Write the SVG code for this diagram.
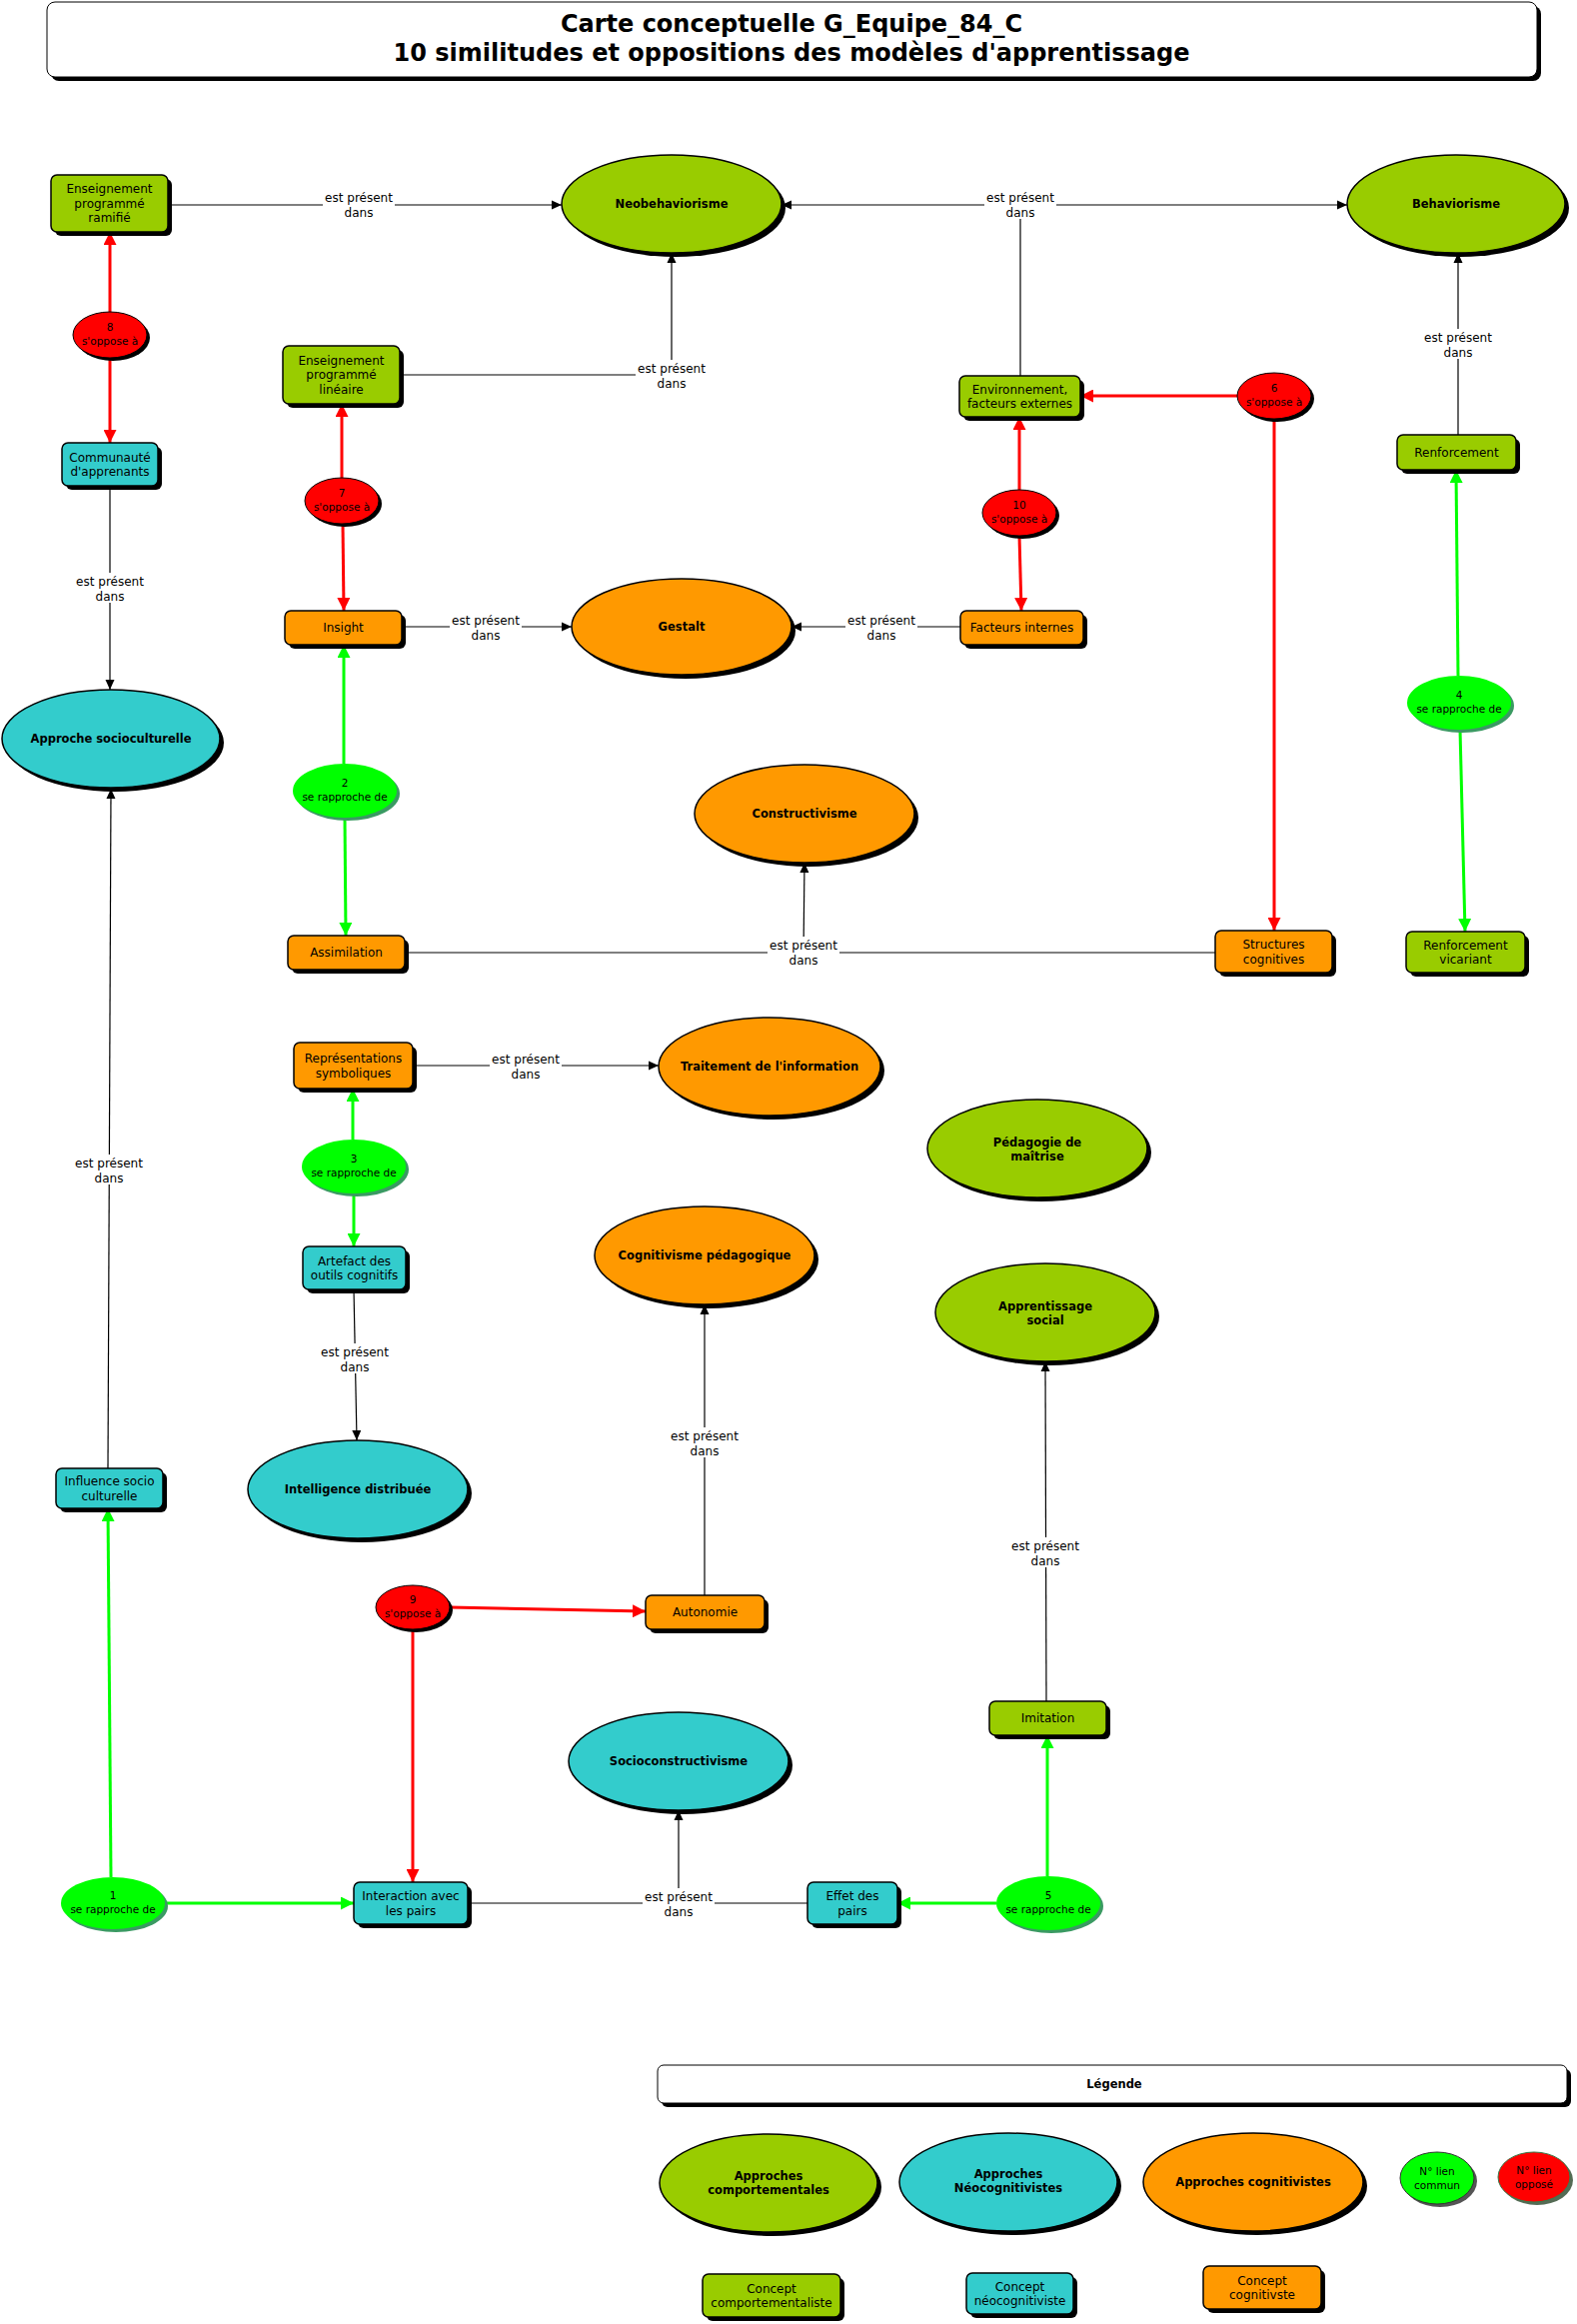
<svg xmlns="http://www.w3.org/2000/svg" width="1578" height="2325" viewBox="0 0 1578 2325">
<style>
.t{font-family:"DejaVu Sans",Verdana,sans-serif;font-size:12px;fill:#000;text-anchor:middle}
.s{font-size:10.5px}
.b{font-weight:bold;font-size:11.5px}
.ti{font-family:"DejaVu Sans",Verdana,sans-serif;font-size:24px;font-weight:bold;fill:#000;text-anchor:middle}
.sh{fill:#000}
.gsh{fill:#3a9a62}
.n{stroke:#000;stroke-width:1.5}
.g{fill:#99cc00}.c{fill:#33cccc}.o{fill:#ff9900}.r{fill:#ff0000}.lg{fill:#00ff00}
.ln{stroke:#000;stroke-width:1.2;fill:none}
.rl{stroke:#ff0000;stroke-width:3;fill:none}
.gl{stroke:#00ff00;stroke-width:3;fill:none}
.bg{fill:#fff}
</style>
<defs>
<marker id="ab" viewBox="0 0 10 10" refX="10" refY="5" markerWidth="10" markerHeight="10" markerUnits="userSpaceOnUse" orient="auto"><path d="M0,0.5 L10,5 L0,9.5 z" fill="#000"/></marker>
<marker id="ar" viewBox="0 0 12 12" refX="12" refY="6" markerWidth="13" markerHeight="13" markerUnits="userSpaceOnUse" orient="auto"><path d="M0,0 L12,6 L0,12 z" fill="#ff0000"/></marker>
<marker id="ag" viewBox="0 0 12 12" refX="12" refY="6" markerWidth="13" markerHeight="13" markerUnits="userSpaceOnUse" orient="auto"><path d="M0,0 L12,6 L0,12 z" fill="#00ff00"/></marker>
</defs>
<rect width="1578" height="2325" fill="#fff"/>

<g id="title">
<rect x="51" y="6" width="1491" height="75" rx="8" class="sh"/>
<rect x="47" y="2" width="1491" height="75" rx="8" fill="#fff" stroke="#000" stroke-width="1"/>
<text class="ti" x="792" y="32">Carte conceptuelle G_Equipe_84_C</text>
<text class="ti" x="792" y="61">10 similitudes et oppositions des modèles d'apprentissage</text>
</g>

<g id="connectors">
<path class="ln" d="M168,205 H562" marker-end="url(#ab)"/>
<path class="ln" d="M400,375 H672 V253" marker-end="url(#ab)"/>
<path class="ln" d="M1021,376 V205"/>
<path class="ln" d="M1021,205 H782" marker-end="url(#ab)"/>
<path class="ln" d="M1021,205 H1348" marker-end="url(#ab)"/>
<path class="ln" d="M1459,435 V253" marker-end="url(#ab)"/>
<path class="ln" d="M110,486 V690" marker-end="url(#ab)"/>
<path class="ln" d="M108,1469 L111,789" marker-end="url(#ab)"/>
<path class="ln" d="M402,627 H572" marker-end="url(#ab)"/>
<path class="ln" d="M961,627 H792" marker-end="url(#ab)"/>
<path class="ln" d="M405,953 H1216"/>
<path class="ln" d="M804,953 L805,863" marker-end="url(#ab)"/>
<path class="ln" d="M413,1066 H659" marker-end="url(#ab)"/>
<path class="ln" d="M354,1290 L357,1441" marker-end="url(#ab)"/>
<path class="ln" d="M705,1596 V1305" marker-end="url(#ab)"/>
<path class="ln" d="M468,1904 H808"/>
<path class="ln" d="M679,1904 V1811" marker-end="url(#ab)"/>
<path class="ln" d="M1047,1702 L1046,1362" marker-end="url(#ab)"/>

<path class="rl" d="M110,312 V232" marker-end="url(#ar)"/>
<path class="rl" d="M110,358 V443" marker-end="url(#ar)"/>
<path class="rl" d="M342,478 V404" marker-end="url(#ar)"/>
<path class="rl" d="M343,524 L344,611" marker-end="url(#ar)"/>
<path class="rl" d="M1238,396 H1081" marker-end="url(#ar)"/>
<path class="rl" d="M1275,419 V931" marker-end="url(#ar)"/>
<path class="rl" d="M1020,490 V417" marker-end="url(#ar)"/>
<path class="rl" d="M1020,536 L1022,611" marker-end="url(#ar)"/>
<path class="rl" d="M413,1630 V1883" marker-end="url(#ar)"/>
<path class="rl" d="M450,1608 L646,1612" marker-end="url(#ar)"/>

<path class="gl" d="M111,1878 L108,1509" marker-end="url(#ag)"/>
<path class="gl" d="M165,1904 H354" marker-end="url(#ag)"/>
<path class="gl" d="M344,764 V645" marker-end="url(#ag)"/>
<path class="gl" d="M345,818 L346,936" marker-end="url(#ag)"/>
<path class="gl" d="M353,1140 V1089" marker-end="url(#ag)"/>
<path class="gl" d="M354,1194 L354,1247" marker-end="url(#ag)"/>
<path class="gl" d="M1459,676 L1457,470" marker-end="url(#ag)"/>
<path class="gl" d="M1461,730 L1466,932" marker-end="url(#ag)"/>
<path class="gl" d="M997,1904 H898" marker-end="url(#ag)"/>
<path class="gl" d="M1048,1877 V1736" marker-end="url(#ag)"/>

<g id="labels">
<rect class="bg" x="323" y="189" width="72" height="30"/><text class="t" x="359" y="202">est présent</text><text class="t" x="359" y="216.5">dans</text>
<rect class="bg" x="636" y="360" width="72" height="30"/><text class="t" x="672" y="373">est présent</text><text class="t" x="672" y="387.5">dans</text>
<rect class="bg" x="985" y="189" width="72" height="30"/><text class="t" x="1021" y="202">est présent</text><text class="t" x="1021" y="216.5">dans</text>
<rect class="bg" x="1423" y="329" width="72" height="30"/><text class="t" x="1459" y="342">est présent</text><text class="t" x="1459" y="356.5">dans</text>
<rect class="bg" x="74" y="573" width="72" height="30"/><text class="t" x="110" y="586">est présent</text><text class="t" x="110" y="600.5">dans</text>
<rect class="bg" x="73" y="1155" width="72" height="30"/><text class="t" x="109" y="1168">est présent</text><text class="t" x="109" y="1182.5">dans</text>
<rect class="bg" x="450" y="612" width="72" height="30"/><text class="t" x="486" y="625">est présent</text><text class="t" x="486" y="639.5">dans</text>
<rect class="bg" x="846" y="612" width="72" height="30"/><text class="t" x="882" y="625">est présent</text><text class="t" x="882" y="639.5">dans</text>
<rect class="bg" x="768" y="937" width="72" height="30"/><text class="t" x="804" y="950">est présent</text><text class="t" x="804" y="964.5">dans</text>
<rect class="bg" x="490" y="1051" width="72" height="30"/><text class="t" x="526" y="1064">est présent</text><text class="t" x="526" y="1078.5">dans</text>
<rect class="bg" x="319" y="1344" width="72" height="30"/><text class="t" x="355" y="1357">est présent</text><text class="t" x="355" y="1371.5">dans</text>
<rect class="bg" x="669" y="1428" width="72" height="30"/><text class="t" x="705" y="1441">est présent</text><text class="t" x="705" y="1455.5">dans</text>
<rect class="bg" x="643" y="1889" width="72" height="30"/><text class="t" x="679" y="1902">est présent</text><text class="t" x="679" y="1916.5">dans</text>
<rect class="bg" x="1010" y="1538" width="72" height="30"/><text class="t" x="1046" y="1551">est présent</text><text class="t" x="1046" y="1565.5">dans</text>
</g>
</g>

<g id="n-ramifie"><rect x="55" y="179" width="117" height="57" rx="6" class="sh"/><rect x="51" y="175" width="117" height="57" rx="6" class="n g"/><text class="t" x="109.5" y="193">Enseignement</text><text class="t" x="109.5" y="207.5">programmé</text><text class="t" x="109.5" y="222">ramifié</text></g>
<g id="n-lineaire"><rect x="287" y="350" width="117" height="58" rx="6" class="sh"/><rect x="283" y="346" width="117" height="58" rx="6" class="n g"/><text class="t" x="341.5" y="364.5">Enseignement</text><text class="t" x="341.5" y="379">programmé</text><text class="t" x="341.5" y="393.5">linéaire</text></g>
<g id="n-env"><rect x="964" y="380" width="121" height="41" rx="6" class="sh"/><rect x="960" y="376" width="121" height="41" rx="6" class="n g"/><text class="t" x="1020.5" y="393.5">Environnement,</text><text class="t" x="1020.5" y="408">facteurs externes</text></g>
<g id="n-renf"><rect x="1402" y="439" width="119" height="35" rx="6" class="sh"/><rect x="1398" y="435" width="119" height="35" rx="6" class="n g"/><text class="t" x="1457.5" y="456.5">Renforcement</text></g>
<g id="n-comm"><rect x="66" y="447" width="96" height="43" rx="6" class="sh"/><rect x="62" y="443" width="96" height="43" rx="6" class="n c"/><text class="t" x="110" y="461.5">Communauté</text><text class="t" x="110" y="476">d'apprenants</text></g>
<g id="n-insight"><rect x="289" y="615" width="117" height="34" rx="6" class="sh"/><rect x="285" y="611" width="117" height="34" rx="6" class="n o"/><text class="t" x="343.5" y="632">Insight</text></g>
<g id="n-facteurs"><rect x="965" y="615" width="123" height="34" rx="6" class="sh"/><rect x="961" y="611" width="123" height="34" rx="6" class="n o"/><text class="t" x="1022.5" y="632">Facteurs internes</text></g>
<g id="n-assim"><rect x="292" y="940" width="117" height="34" rx="6" class="sh"/><rect x="288" y="936" width="117" height="34" rx="6" class="n o"/><text class="t" x="346.5" y="957">Assimilation</text></g>
<g id="n-struct"><rect x="1220" y="935" width="117" height="42" rx="6" class="sh"/><rect x="1216" y="931" width="117" height="42" rx="6" class="n o"/><text class="t" x="1274.5" y="949">Structures</text><text class="t" x="1274.5" y="963.5">cognitives</text></g>
<g id="n-vicar"><rect x="1411" y="936" width="119" height="41" rx="6" class="sh"/><rect x="1407" y="932" width="119" height="41" rx="6" class="n g"/><text class="t" x="1466.5" y="949.5">Renforcement</text><text class="t" x="1466.5" y="964">vicariant</text></g>
<g id="n-repr"><rect x="298" y="1047" width="119" height="46" rx="6" class="sh"/><rect x="294" y="1043" width="119" height="46" rx="6" class="n o"/><text class="t" x="353.5" y="1063">Représentations</text><text class="t" x="353.5" y="1077.5">symboliques</text></g>
<g id="n-artefact"><rect x="307" y="1251" width="103" height="43" rx="6" class="sh"/><rect x="303" y="1247" width="103" height="43" rx="6" class="n c"/><text class="t" x="354.5" y="1265.5">Artefact des</text><text class="t" x="354.5" y="1280">outils cognitifs</text></g>
<g id="n-influence"><rect x="60" y="1473" width="107" height="40" rx="6" class="sh"/><rect x="56" y="1469" width="107" height="40" rx="6" class="n c"/><text class="t" x="109.5" y="1486">Influence socio</text><text class="t" x="109.5" y="1500.5">culturelle</text></g>
<g id="n-autonomie"><rect x="650" y="1600" width="119" height="34" rx="6" class="sh"/><rect x="646" y="1596" width="119" height="34" rx="6" class="n o"/><text class="t" x="705.5" y="1617">Autonomie</text></g>
<g id="n-imitation"><rect x="994" y="1706" width="117" height="34" rx="6" class="sh"/><rect x="990" y="1702" width="117" height="34" rx="6" class="n g"/><text class="t" x="1048.5" y="1723">Imitation</text></g>
<g id="n-interaction"><rect x="358" y="1887" width="114" height="42" rx="6" class="sh"/><rect x="354" y="1883" width="114" height="42" rx="6" class="n c"/><text class="t" x="411" y="1901">Interaction avec</text><text class="t" x="411" y="1915.5">les pairs</text></g>
<g id="n-effet"><rect x="812" y="1887" width="90" height="42" rx="6" class="sh"/><rect x="808" y="1883" width="90" height="42" rx="6" class="n c"/><text class="t" x="853" y="1901">Effet des</text><text class="t" x="853" y="1915.5">pairs</text></g>

<g id="n-neo"><ellipse cx="676" cy="208" rx="110" ry="49" class="sh"/><ellipse cx="672" cy="204" rx="110" ry="49" class="n g"/><text class="t b" x="672" y="208">Neobehaviorisme</text></g>
<g id="n-behav"><ellipse cx="1461" cy="208" rx="109" ry="49" class="sh"/><ellipse cx="1457" cy="204" rx="109" ry="49" class="n g"/><text class="t b" x="1457" y="208">Behaviorisme</text></g>
<g id="n-approche"><ellipse cx="115" cy="743" rx="109" ry="49" class="sh"/><ellipse cx="111" cy="739" rx="109" ry="49" class="n c"/><text class="t b" x="111" y="743">Approche socioculturelle</text></g>
<g id="n-gestalt"><ellipse cx="686" cy="631" rx="110" ry="48" class="sh"/><ellipse cx="682" cy="627" rx="110" ry="48" class="n o"/><text class="t b" x="682" y="631">Gestalt</text></g>
<g id="n-constr"><ellipse cx="809" cy="818" rx="110" ry="49" class="sh"/><ellipse cx="805" cy="814" rx="110" ry="49" class="n o"/><text class="t b" x="805" y="818">Constructivisme</text></g>
<g id="n-traitement"><ellipse cx="774" cy="1071" rx="111" ry="49" class="sh"/><ellipse cx="770" cy="1067" rx="111" ry="49" class="n o"/><text class="t b" x="770" y="1071">Traitement de l'information</text></g>
<g id="n-pedagogie"><ellipse cx="1042" cy="1153" rx="110" ry="49" class="sh"/><ellipse cx="1038" cy="1149" rx="110" ry="49" class="n g"/><text class="t b" x="1038" y="1147">Pédagogie de</text><text class="t b" x="1038" y="1161">maîtrise</text></g>
<g id="n-cogpeda"><ellipse cx="709" cy="1260" rx="110" ry="49" class="sh"/><ellipse cx="705" cy="1256" rx="110" ry="49" class="n o"/><text class="t b" x="705" y="1260">Cognitivisme pédagogique</text></g>
<g id="n-apprsocial"><ellipse cx="1050" cy="1317" rx="110" ry="49" class="sh"/><ellipse cx="1046" cy="1313" rx="110" ry="49" class="n g"/><text class="t b" x="1046" y="1311">Apprentissage</text><text class="t b" x="1046" y="1325">social</text></g>
<g id="n-intelligence"><ellipse cx="362" cy="1494" rx="110" ry="49" class="sh"/><ellipse cx="358" cy="1490" rx="110" ry="49" class="n c"/><text class="t b" x="358" y="1494">Intelligence distribuée</text></g>
<g id="n-socioconst"><ellipse cx="683" cy="1766" rx="110" ry="49" class="sh"/><ellipse cx="679" cy="1762" rx="110" ry="49" class="n c"/><text class="t b" x="679" y="1766">Socioconstructivisme</text></g>

<g id="l-8"><ellipse cx="113" cy="338" rx="37" ry="23" class="sh"/><ellipse cx="110" cy="335" rx="37" ry="23" class="r" stroke="#000" stroke-width="1"/><text class="t s" x="110" y="331">8</text><text class="t s" x="110" y="345">s'oppose à</text></g>
<g id="l-7"><ellipse cx="345" cy="504" rx="37" ry="23" class="sh"/><ellipse cx="342" cy="501" rx="37" ry="23" class="r" stroke="#000" stroke-width="1"/><text class="t s" x="342" y="497">7</text><text class="t s" x="342" y="511">s'oppose à</text></g>
<g id="l-6"><ellipse cx="1278" cy="399" rx="37" ry="23" class="sh"/><ellipse cx="1275" cy="396" rx="37" ry="23" class="r" stroke="#000" stroke-width="1"/><text class="t s" x="1275" y="392">6</text><text class="t s" x="1275" y="406">s'oppose à</text></g>
<g id="l-10"><ellipse cx="1023" cy="516" rx="37" ry="23" class="sh"/><ellipse cx="1020" cy="513" rx="37" ry="23" class="r" stroke="#000" stroke-width="1"/><text class="t s" x="1020" y="509">10</text><text class="t s" x="1020" y="523">s'oppose à</text></g>
<g id="l-9"><ellipse cx="416" cy="1611" rx="37" ry="22" class="sh"/><ellipse cx="413" cy="1608" rx="37" ry="22" class="r" stroke="#000" stroke-width="1"/><text class="t s" x="413" y="1604">9</text><text class="t s" x="413" y="1618">s'oppose à</text></g>
<g id="l-1"><ellipse cx="116" cy="1907" rx="52" ry="26" class="gsh"/><ellipse cx="113" cy="1904" rx="52" ry="26" class="lg"/><text class="t s" x="113" y="1900">1</text><text class="t s" x="113" y="1914">se rapproche de</text></g>
<g id="l-2"><ellipse cx="348" cy="794" rx="52" ry="27" class="gsh"/><ellipse cx="345" cy="791" rx="52" ry="27" class="lg"/><text class="t s" x="345" y="787">2</text><text class="t s" x="345" y="801">se rapproche de</text></g>
<g id="l-3"><ellipse cx="357" cy="1170" rx="52" ry="27" class="gsh"/><ellipse cx="354" cy="1167" rx="52" ry="27" class="lg"/><text class="t s" x="354" y="1163">3</text><text class="t s" x="354" y="1177">se rapproche de</text></g>
<g id="l-4"><ellipse cx="1463" cy="706" rx="52" ry="27" class="gsh"/><ellipse cx="1460" cy="703" rx="52" ry="27" class="lg"/><text class="t s" x="1460" y="699">4</text><text class="t s" x="1460" y="713">se rapproche de</text></g>
<g id="l-5"><ellipse cx="1052" cy="1907" rx="52" ry="27" class="gsh"/><ellipse cx="1049" cy="1904" rx="52" ry="27" class="lg"/><text class="t s" x="1049" y="1900">5</text><text class="t s" x="1049" y="1914">se rapproche de</text></g>

<g id="legend">
<g id="leg-title"><rect x="662" y="2070" width="910" height="38" rx="6" class="sh"/><rect x="658" y="2066" width="910" height="38" rx="6" fill="#fff" stroke="#000" stroke-width="1"/><text class="t b" x="1115" y="2089">Légende</text></g>
<g id="leg-comp"><ellipse cx="773" cy="2188" rx="109" ry="49" class="sh"/><ellipse cx="769" cy="2184" rx="109" ry="49" class="n g"/><text class="t b" x="769" y="2181">Approches</text><text class="t b" x="769" y="2195">comportementales</text></g>
<g id="leg-neo"><ellipse cx="1013" cy="2187" rx="109" ry="49" class="sh"/><ellipse cx="1009" cy="2183" rx="109" ry="49" class="n c"/><text class="t b" x="1009" y="2179">Approches</text><text class="t b" x="1009" y="2193">Néocognitivistes</text></g>
<g id="leg-cog"><ellipse cx="1258" cy="2187" rx="110" ry="49" class="sh"/><ellipse cx="1254" cy="2183" rx="110" ry="49" class="n o"/><text class="t b" x="1254" y="2187">Approches cognitivistes</text></g>
<g id="leg-commun"><ellipse cx="1441" cy="2182" rx="37" ry="26" fill="#555"/><ellipse cx="1438" cy="2179" rx="37" ry="26" class="lg" stroke="#333" stroke-width="1"/><text class="t s" x="1438" y="2176">N° lien</text><text class="t s" x="1438" y="2190">commun</text></g>
<g id="leg-oppose"><ellipse cx="1538" cy="2181" rx="36" ry="25" fill="#556b55"/><ellipse cx="1535" cy="2178" rx="36" ry="25" class="r" stroke="#3a7a4a" stroke-width="1"/><text class="t s" x="1535" y="2175">N° lien</text><text class="t s" x="1535" y="2189">opposé</text></g>
<g id="leg-c1"><rect x="707" y="2279" width="138" height="43" rx="6" class="sh"/><rect x="703" y="2275" width="138" height="43" rx="6" class="n g"/><text class="t" x="772" y="2293.5">Concept</text><text class="t" x="772" y="2308">comportementaliste</text></g>
<g id="leg-c2"><rect x="971" y="2278" width="107" height="41" rx="6" class="sh"/><rect x="967" y="2274" width="107" height="41" rx="6" class="n c"/><text class="t" x="1020.5" y="2291.5">Concept</text><text class="t" x="1020.5" y="2306">néocognitiviste</text></g>
<g id="leg-c3"><rect x="1208" y="2271" width="118" height="43" rx="6" class="sh"/><rect x="1204" y="2267" width="118" height="43" rx="6" class="n o"/><text class="t" x="1263" y="2285.5">Concept</text><text class="t" x="1263" y="2300">cognitivste</text></g>
</g>
</svg>
